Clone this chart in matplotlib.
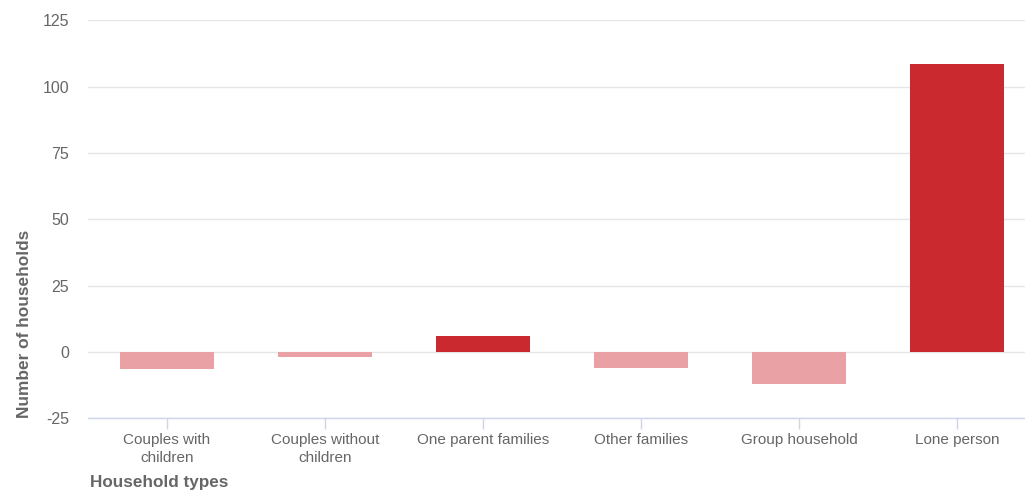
import matplotlib.pyplot as plt
import numpy as np

# data
categories = ['Couples with\nchildren', 'Couples without\nchildren', 'One parent families',
              'Other families', 'Group household', 'Lone person']
values = [-6.5, -2.0, 6.0, -6.2, -11.9, 108.4]
y_ticks = [-25, 0, 25, 50, 75, 100, 125]

pos_color = '#C9292F'
neg_color = '#E9A1A5'
text_color = '#666666'
axis_color = '#CCD6EB'
grid_color = '#E6E6E6'

plt.rcParams['font.family'] = ['Liberation Sans', 'DejaVu Sans']

fig = plt.figure(figsize=(10.25, 4.92), dpi=100)
ax = fig.add_axes([88 / 1025, 73.7 / 492, 948 / 1025, 398 / 492])

x = np.arange(len(categories))
colors = [pos_color if v >= 0 else neg_color for v in values]
ax.bar(x, values, width=0.6, color=colors, zorder=3)

ax.set_xlim(-0.5, len(categories) - 0.5)
ax.set_ylim(-25, 125)
ax.set_yticks(y_ticks)
ax.set_yticklabels([str(t) for t in y_ticks])
ax.set_xticks(x)
ax.set_xticklabels(categories, linespacing=1.35)

ax.grid(axis='y', color=grid_color, linewidth=1, zorder=0)
for s in ['top', 'right', 'left']:
    ax.spines[s].set_visible(False)
ax.spines['bottom'].set_color(axis_color)
ax.spines['bottom'].set_linewidth(1)

ax.tick_params(axis='y', length=0, pad=13.5, labelsize=11.5, labelcolor=text_color)
ax.tick_params(axis='x', length=8, width=1, color=axis_color, pad=2.5,
               labelsize=11, labelcolor=text_color)

fig.text(25 / 1025, 1 - 323.5 / 492, 'Number of households', rotation=90,
         ha='center', va='center', fontsize=12.4, fontweight='bold', color=text_color)
fig.text(90 / 1025, 1 - 483 / 492, 'Household types', ha='left', va='center',
         fontsize=12.3, fontweight='bold', color=text_color)

fig.savefig('out.png', dpi=100)
